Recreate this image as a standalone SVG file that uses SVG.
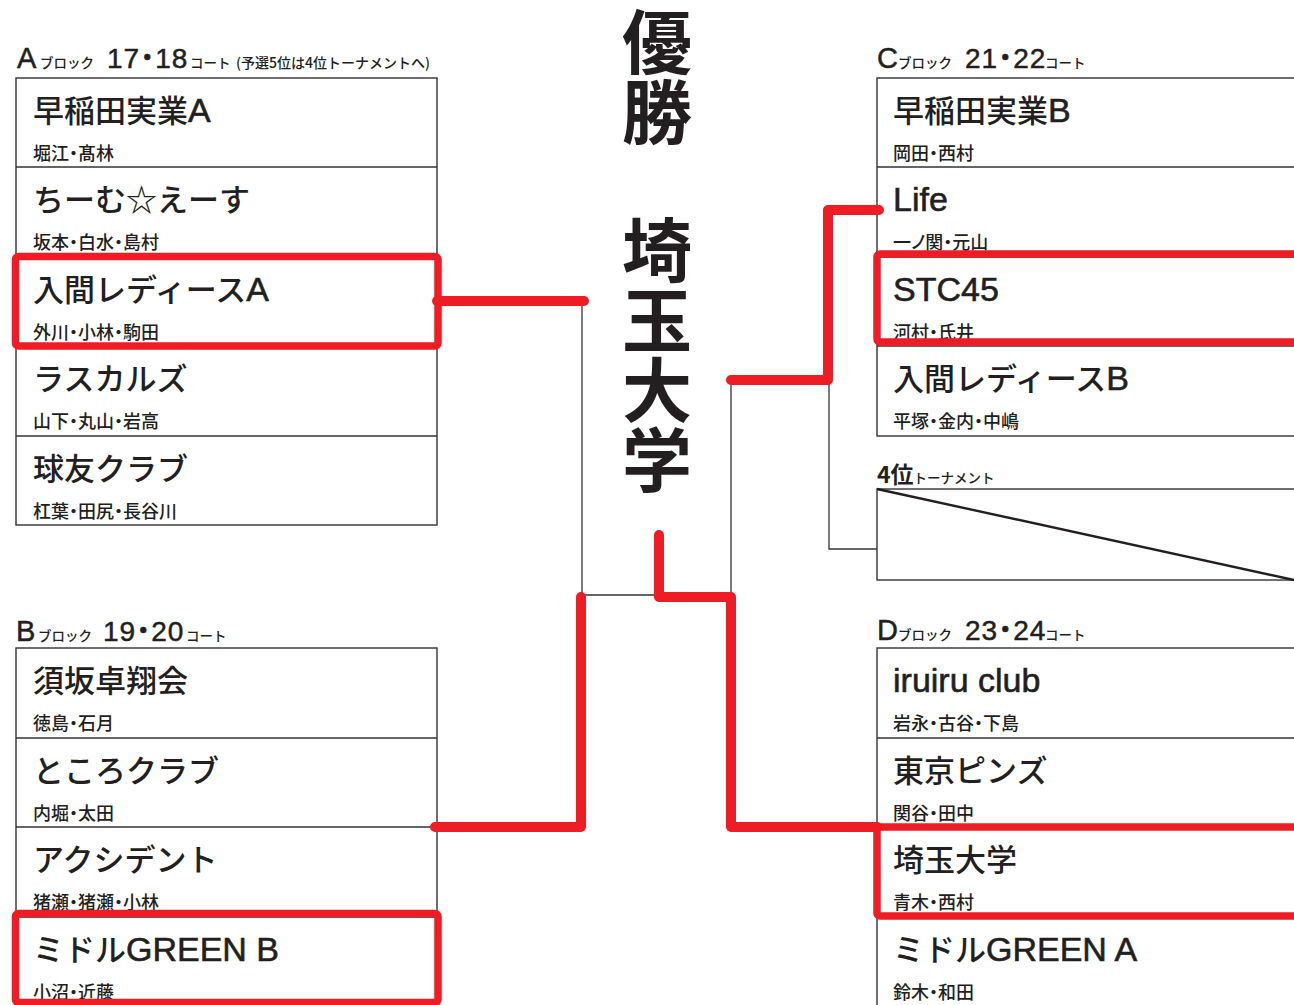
<svg xmlns="http://www.w3.org/2000/svg" width="1294" height="1005" viewBox="0 0 1294 1005">
<style>
text{font-family:"Noto Sans CJK JP","Noto Sans",sans-serif;fill:#231f20}
.nm{font-size:31px;font-weight:500}
.lt{font-family:"Liberation Sans",Arial,sans-serif;font-size:34px;stroke:#231f20;stroke-width:0.6}
.mb{font-size:18px;font-weight:500;font-feature-settings:"palt"}
.hb{font-family:"Liberation Sans",Arial,sans-serif;font-size:29px;stroke:#231f20;stroke-width:0.5}
.hn{font-family:"Liberation Sans","Noto Sans CJK JP",sans-serif;font-size:28px;stroke:#231f20;stroke-width:0.5;font-feature-settings:"palt";letter-spacing:1px}
.hs{font-size:13.5px;font-weight:500}
.big{font-size:70px;font-weight:700;writing-mode:vertical-rl}
.box{fill:none;stroke:#333;stroke-width:1.4}
.thin{fill:none;stroke:#333;stroke-width:1.3}
.red{fill:none;stroke:#ee1c25;stroke-width:10;stroke-linecap:round;stroke-linejoin:round}
.rbox{fill:none;stroke:#ee1c25;stroke-width:7.5;stroke-linejoin:round}
</style>
<rect width="1294" height="1005" fill="#fff"/>

<g id="title">
<text class="big" x="657" y="7">優勝</text>
<text class="big" x="657" y="215">埼玉大学</text>
</g>

<g id="header-a">
<text y="68"><tspan class="hb" x="17">A</tspan><tspan class="hs" x="40">ブロック</tspan><tspan class="hn" x="107">17・18</tspan><tspan class="hs" x="190">コート</tspan><tspan class="hs" x="236" style="font-size:14px">(予選5位は4位トーナメントへ)</tspan></text>
</g>
<g id="header-b">
<text y="641"><tspan class="hb" x="16">B</tspan><tspan class="hs" x="38">ブロック</tspan><tspan class="hn" x="103">19・20</tspan><tspan class="hs" x="186">コート</tspan></text>
</g>
<g id="header-c">
<text y="68"><tspan class="hb" x="877">C</tspan><tspan class="hs" x="898">ブロック</tspan><tspan class="hn" x="965">21・22</tspan><tspan class="hs" x="1045">コート</tspan></text>
</g>
<g id="header-d">
<text y="640"><tspan class="hb" x="877">D</tspan><tspan class="hs" x="898">ブロック</tspan><tspan class="hn" x="965">23・24</tspan><tspan class="hs" x="1045">コート</tspan></text>
</g>

<g id="block-a">
<rect class="box" x="16" y="78" width="421" height="447"/>
<path class="thin" d="M16 167H437M16 257H437M16 346H437M16 436H437"/>
</g>
<g id="team-a1"><text class="nm" x="33" y="122">早稲田実業<tspan class="lt">A</tspan></text><text class="mb" x="33" y="160">堀江・髙林</text></g>
<g id="team-a2"><text class="nm" x="33" y="211">ちーむ☆えーす</text><text class="mb" x="33" y="249">坂本・白水・島村</text></g>
<g id="team-a3"><text class="nm" x="33" y="301">入間レディース<tspan class="lt">A</tspan></text><text class="mb" x="33" y="339">外川・小林・駒田</text></g>
<g id="team-a4"><text class="nm" x="33" y="390">ラスカルズ</text><text class="mb" x="33" y="428">山下・丸山・岩高</text></g>
<g id="team-a5"><text class="nm" x="33" y="480">球友クラブ</text><text class="mb" x="33" y="518">杠葉・田尻・長谷川</text></g>

<g id="block-b">
<rect class="box" x="16" y="648" width="421" height="370"/>
<path class="thin" d="M16 738H437M16 827H437M16 917H437"/>
</g>
<g id="team-b1"><text class="nm" x="33" y="692">須坂卓翔会</text><text class="mb" x="33" y="730">徳島・石月</text></g>
<g id="team-b2"><text class="nm" x="33" y="782">ところクラブ</text><text class="mb" x="33" y="820">内堀・太田</text></g>
<g id="team-b3"><text class="nm" x="33" y="871">アクシデント</text><text class="mb" x="33" y="909">猪瀬・猪瀬・小林</text></g>
<g id="team-b4"><text class="nm" x="33" y="961">ミドル<tspan class="lt">GREEN B</tspan></text><text class="mb" x="33" y="999">小沼・近藤</text></g>

<g id="block-c">
<rect class="box" x="877" y="78" width="430" height="358"/>
<path class="thin" d="M877 167H1300M877 257H1300M877 346H1300"/>
</g>
<g id="team-c1"><text class="nm" x="893" y="122">早稲田実業<tspan class="lt">B</tspan></text><text class="mb" x="893" y="160">岡田・西村</text></g>
<g id="team-c2"><text class="nm" x="893" y="211"><tspan class="lt">Life</tspan></text><text class="mb" x="893" y="249">一ノ関・元山</text></g>
<g id="team-c3"><text class="nm" x="893" y="301"><tspan class="lt">STC45</tspan></text><text class="mb" x="893" y="339">河村・氏井</text></g>
<g id="team-c4"><text class="nm" x="893" y="390">入間レディース<tspan class="lt">B</tspan></text><text class="mb" x="893" y="428">平塚・金内・中嶋</text></g>

<g id="fourth">
<text x="877" y="483"><tspan style="font-size:23px;font-weight:700">4位</tspan><tspan class="hs" style="font-size:13.5px">トーナメント</tspan></text>
<rect class="box" x="877" y="489" width="430" height="91"/>
<line x1="877" y1="489" x2="1294" y2="580" stroke="#231f20" stroke-width="2.4"/>
</g>

<g id="block-d">
<rect class="box" x="877" y="648" width="430" height="370"/>
<path class="thin" d="M877 738H1300M877 827H1300M877 917H1300"/>
</g>
<g id="team-d1"><text class="nm" x="893" y="692"><tspan class="lt">iruiru club</tspan></text><text class="mb" x="893" y="730">岩永・古谷・下島</text></g>
<g id="team-d2"><text class="nm" x="893" y="782">東京ピンズ</text><text class="mb" x="893" y="820">関谷・田中</text></g>
<g id="team-d3"><text class="nm" x="893" y="871">埼玉大学</text><text class="mb" x="893" y="909">青木・西村</text></g>
<g id="team-d4"><text class="nm" x="893" y="961">ミドル<tspan class="lt">GREEN A</tspan></text><text class="mb" x="893" y="999">鈴木・和田</text></g>

<g id="connectors">
<path class="thin" d="M582 301V595H659M731 380V595M829 380V549H877"/>
<rect class="rbox" x="15.5" y="256.5" width="422.5" height="89.5" rx="3"/>
<rect class="rbox" x="15.5" y="913.5" width="422.5" height="89" rx="3"/>
<rect class="rbox" x="877" y="254" width="440" height="88" rx="3"/>
<rect class="rbox" x="877" y="827" width="440" height="89" rx="3"/>
<path class="red" d="M437 301H584"/>
<path class="red" d="M581 597V827H435"/>
<path class="red" d="M659 535V597H731V827H877"/>
<path class="red" d="M879 210H828V380H731"/>
</g>
</svg>
